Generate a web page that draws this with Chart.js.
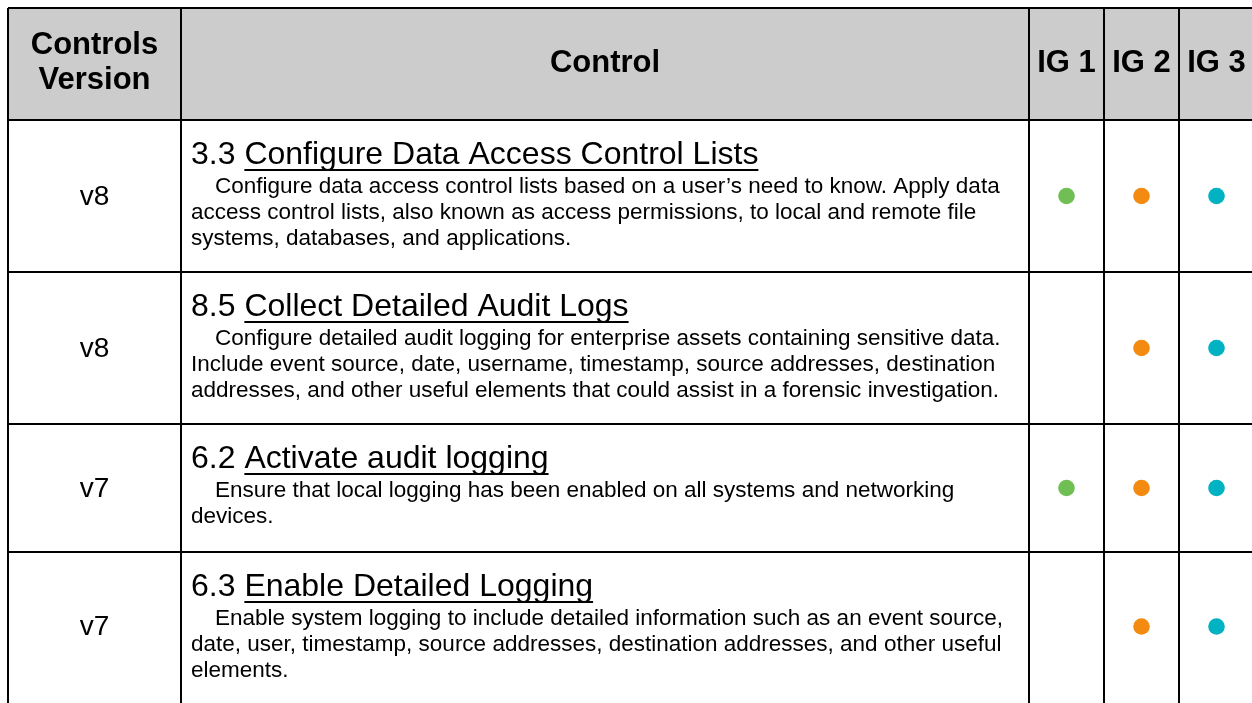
<!DOCTYPE html>
<html>
<head>
<meta charset="UTF-8">
<title>CIS Controls</title>
<style>
    body { margin: 0; padding: 0; background: #fff; }
    canvas { display: block; }
</style>
</head>
<body>
<canvas id="controlsChart" width="1252" height="703"></canvas>
<script src="https://cdn.jsdelivr.net/npm/chart.js"></script>
<script>
    // table content
    const headers = [['Controls', 'Version'], ['Control'], ['IG 1'], ['IG 2'], ['IG 3']];
    const versions = ['v8', 'v8', 'v7', 'v7'];
    const controlIds = ['3.3', '8.5', '6.2', '6.3'];
    const controlTitles = [
        'Configure Data Access Control Lists',
        'Collect Detailed Audit Logs',
        'Activate audit logging',
        'Enable Detailed Logging'
    ];
    const controlDescs = [
        ['Configure data access control lists based on a user\u2019s need to know. Apply data',
         'access control lists, also known as access permissions, to local and remote file',
         'systems, databases, and applications.'],
        ['Configure detailed audit logging for enterprise assets containing sensitive data.',
         'Include event source, date, username, timestamp, source addresses, destination',
         'addresses, and other useful elements that could assist in a forensic investigation.'],
        ['Ensure that local logging has been enabled on all systems and networking',
         'devices.'],
        ['Enable system logging to include detailed information such as an event source,',
         'date, user, timestamp, source addresses, destination addresses, and other useful',
         'elements.']
    ];
    const ig1 = [true, false, true, false];
    const ig2 = [true, true, true, true];
    const ig3 = [true, true, true, true];
    const igColors = ['#70bf54', '#f38b11', '#00b2c2'];

    // layout (pixel units on the scales)
    const colEdges = [8, 181, 1029, 1104, 1179, 1254];
    const rowEdges = [8, 120, 272, 424, 552, 701];
    const FONT = "'Liberation Sans', Arial, sans-serif";

    const colMid = i => (colEdges[i] + colEdges[i + 1]) / 2;
    const rowMid = i => (rowEdges[i] + rowEdges[i + 1]) / 2;

    const igFlags = [ig1, ig2, ig3];
    const datasets = igFlags.map((flags, k) => ({
        label: headers[k + 2][0],
        data: flags.map((on, r) => on ? { x: colMid(k + 2), y: rowMid(r + 1) } : null).filter(p => p),
        backgroundColor: igColors[k],
        borderWidth: 0,
        pointRadius: 8.3,
        pointHoverRadius: 8.3
    }));

    const tablePlugin = {
        id: 'tableText',
        beforeDraw(chart) {
            const { ctx, scales: { x, y } } = chart;
            ctx.save();
            ctx.fillStyle = '#cccccc';
            ctx.fillRect(x.getPixelForValue(colEdges[0]), y.getPixelForValue(rowEdges[0]),
                x.getPixelForValue(1252) - x.getPixelForValue(colEdges[0]),
                y.getPixelForValue(rowEdges[1]) - y.getPixelForValue(rowEdges[0]));
            ctx.restore();
        },
        afterDraw(chart) {
            const { ctx, scales: { x, y } } = chart;
            ctx.save();
            ctx.fillStyle = '#000';
            ctx.textBaseline = 'middle';
            ctx.textAlign = 'center';

            // header
            ctx.font = 'bold 31px ' + FONT;
            headers.forEach((lines, c) => {
                const cx = x.getPixelForValue(colMid(c));
                const cy = y.getPixelForValue(rowMid(0)) - 1;
                lines.forEach((t, j) => {
                    ctx.fillText(t, cx, cy + (j - (lines.length - 1) / 2) * 35);
                });
            });

            // body rows
            versions.forEach((v, r) => {
                const top = y.getPixelForValue(rowEdges[r + 1]);
                ctx.textAlign = 'center';
                ctx.font = '28px ' + FONT;
                ctx.fillText(v, x.getPixelForValue(colMid(0)), y.getPixelForValue(rowMid(r + 1)) + 1);

                ctx.textAlign = 'left';
                const left = x.getPixelForValue(colEdges[1]) + 10;
                const ty = top + 35;
                ctx.font = '32px ' + FONT;
                const idText = controlIds[r] + ' ';
                ctx.fillText(idText, left, ty);
                const tx = left + ctx.measureText(idText).width;
                ctx.fillText(controlTitles[r], tx, ty);
                const tw = ctx.measureText(controlTitles[r]).width;
                ctx.fillRect(tx, ty + 14, tw, 2);

                ctx.font = '22.5px ' + FONT;
                controlDescs[r].forEach((line, j) => {
                    ctx.fillText(line, left + (j === 0 ? 24 : 0), top + 67 + j * 26);
                });
            });
            ctx.restore();
        }
    };

    const gridOpts = { color: '#000', lineWidth: 2, drawTicks: false };

    new Chart(document.getElementById('controlsChart'), {
        type: 'scatter',
        data: { datasets: datasets },
        options: {
            responsive: false,
            animation: false,
            layout: { autoPadding: false, padding: { left: 8, top: 8, right: 0, bottom: 0 } },
            plugins: { legend: { display: false }, tooltip: { enabled: false } },
            scales: {
                x: {
                    type: 'linear', min: 8, max: 1252,
                    grid: gridOpts, border: { display: false },
                    ticks: { display: false },
                    afterBuildTicks: s => { s.ticks = colEdges.slice(0, 5).map(v => ({ value: v })); }
                },
                y: {
                    type: 'linear', min: 8, max: 703, reverse: true,
                    grid: gridOpts, border: { display: false },
                    ticks: { display: false },
                    afterBuildTicks: s => { s.ticks = rowEdges.slice(0, 5).map(v => ({ value: v })); }
                }
            }
        },
        plugins: [tablePlugin]
    });
</script>
</body>
</html>
